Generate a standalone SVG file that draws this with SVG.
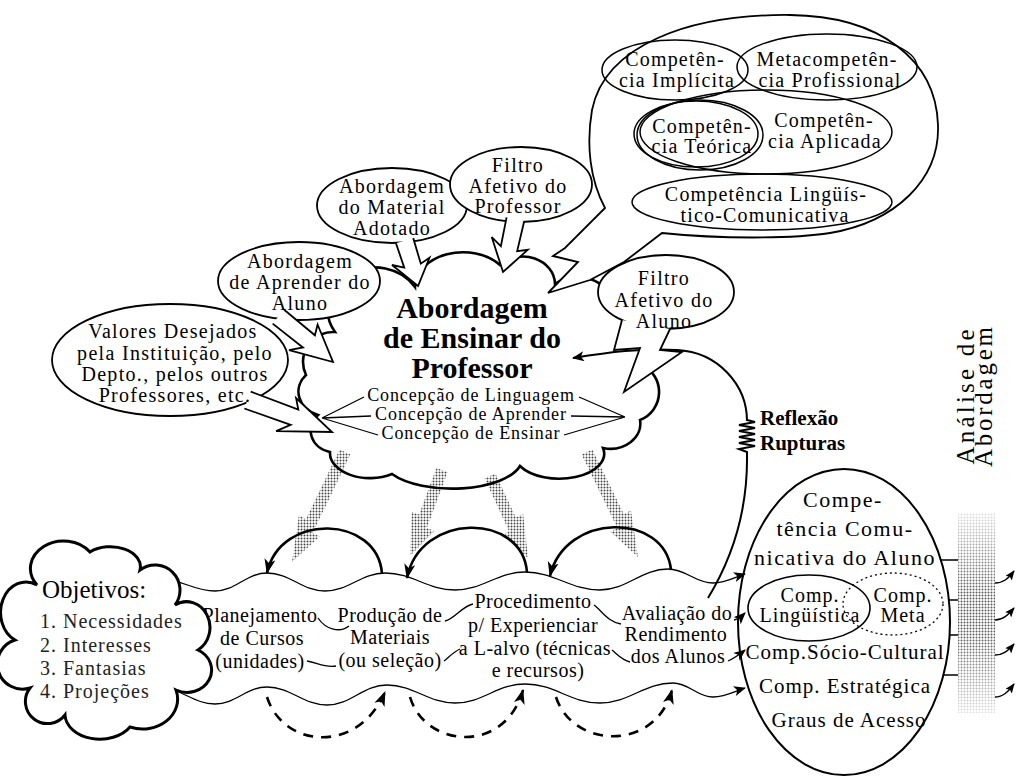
<svg xmlns="http://www.w3.org/2000/svg" width="1017" height="778" viewBox="0 0 1017 778">
<style>
text{font-family:"Liberation Serif","Times New Roman",serif;fill:#000;text-anchor:middle}
.t{font-size:20px;letter-spacing:1.3px}
.tt{font-size:20px;letter-spacing:1.2px}
.bt{font-size:20px;letter-spacing:0.5px}
.c{font-size:18px;letter-spacing:0.9px}
.h{font-size:30px;font-weight:bold}
.ob{font-size:25px;text-anchor:start}
.li{font-size:20px;letter-spacing:1px;text-anchor:start;fill:#222}
.rf{font-size:21px;font-weight:bold;text-anchor:start}
.ov{font-size:22px;letter-spacing:1.5px}
.ov2{font-size:21px;letter-spacing:1px}
.sm{font-size:20px;letter-spacing:1px}
.v{font-size:25px}
.bub{fill:#fff;stroke:#000;stroke-width:1.8}
.in{fill:none;stroke:#000;stroke-width:1.5}
.ln{fill:none;stroke:#000;stroke-width:1.3}
.arc{fill:none;stroke:#000;stroke-width:2.6}
.dash{fill:none;stroke:#000;stroke-width:2.6;stroke-dasharray:10 8}
.st{fill:url(#dots);stroke:none}
</style>
<defs>
<pattern id="dots" width="3" height="3" patternUnits="userSpaceOnUse"><rect width="3" height="3" fill="#fff"/><circle cx="1.5" cy="1.5" r="0.95" fill="#444"/></pattern>
<linearGradient id="fade" x1="0" y1="0" x2="0" y2="1"><stop offset="0" stop-color="#fff" stop-opacity="0.85"/><stop offset="0.4" stop-color="#fff" stop-opacity="0.1"/><stop offset="0.6" stop-color="#fff" stop-opacity="0.1"/><stop offset="1" stop-color="#fff" stop-opacity="0.85"/></linearGradient>
<path id="tail" d="M -3,-9 L 55,-9 L 48,-19 L 100,0 L 40,19 L 53,8 L -3,9" fill="#fff" stroke="#000" stroke-width="1.8" stroke-linejoin="miter" vector-effect="non-scaling-stroke"/>
<marker id="ah" viewBox="0 0 12 10" refX="11" refY="5" markerWidth="12" markerHeight="10" markerUnits="userSpaceOnUse" orient="auto"><path d="M0,0 L12,5 L0,10 L3,5 Z" fill="#000"/></marker>
<marker id="ahs" viewBox="0 0 10 8" refX="9" refY="4" markerWidth="10" markerHeight="8" markerUnits="userSpaceOnUse" orient="auto"><path d="M0,0 L10,4 L0,8 L2,4 Z" fill="#000"/></marker>
<marker id="ahl" viewBox="0 0 15 11" refX="14" refY="5.5" markerWidth="15" markerHeight="11" markerUnits="userSpaceOnUse" orient="auto"><path d="M0,0 L15,5.5 L0,11 L4,5.5 Z" fill="#000"/></marker>
</defs>

<!-- central cloud -->
<g id="cloud-professor">
<path d="M 335,332 A 45 40 0 0 1 415,287 A 48 35 0 0 1 500,265 A 32 28 0 0 1 555,284 A 35 30 0 0 1 612,312 A 35 32 0 0 1 642,365 A 30 30 0 0 1 640,420 A 30 25 0 0 1 603,448 A 45 25 0 0 1 520,466 A 70 30 0 0 1 392,474 A 40 25 0 0 1 330,452 A 25 22 0 0 1 318,415 A 30 25 0 0 1 306,375 A 30 30 0 0 1 335,332 Z" fill="#fff" stroke="none"/>
</g>

<!-- stippled arrows -->
<g id="stipple-arrows">
<polygon class="st" points="350.4,454.6 312.6,533.1 319.8,536.6 292,562 298.9,515.4 306.1,518.9 339.6,449.4"/>
<polygon class="st" points="447.6,472.1 426.8,528.1 434.3,530.9 410,556 411.6,511.7 419.1,514.5 436.4,467.9"/>
<polygon class="st" points="495.4,473.5 515.8,517.4 523.1,514.0 528,558 501.9,534.9 509.2,531.5 484.6,478.5"/>
<polygon class="st" points="592.4,449.4 623.7,513.9 630.9,510.4 638,557 610.1,531.6 617.3,528.1 581.6,454.6"/>
</g>

<g id="cloud-professor-outline">
<path d="M 335,332 A 45 40 0 0 1 415,287 A 48 35 0 0 1 500,265 A 32 28 0 0 1 555,284 A 35 30 0 0 1 612,312 A 35 32 0 0 1 642,365 A 30 30 0 0 1 640,420 A 30 25 0 0 1 603,448 A 45 25 0 0 1 520,466 A 70 30 0 0 1 392,474 A 40 25 0 0 1 330,452 A 25 22 0 0 1 318,415 A 30 25 0 0 1 306,375 A 30 30 0 0 1 335,332 Z" fill="none" stroke="#000" stroke-width="2.6"/>
<text class="h" x="472" y="318">Abordagem</text>
<text class="h" x="472" y="348">de Ensinar do</text>
<text class="h" x="472" y="378">Professor</text>
<text class="c" x="471" y="401">Concepção de Linguagem</text>
<text class="c" x="471" y="420">Concepção de Aprender</text>
<text class="c" x="471" y="439">Concepção de Ensinar</text>
<path class="ln" d="M 364,397 L 322,418 M 371,416 L 322,418 M 378,435 L 322,418 M 579,397 L 625,417 M 571,416 L 625,417 M 564,435 L 625,417" stroke-width="1.5"/>
</g>

<!-- top-right competence bubble -->
<g id="bubble-competencias">
<path class="bub" d="M 662,233 C 720,239 790,239 830,233 C 895,222 940,180 938,125 C 936,60 880,16 790,15 C 690,14 605,45 592,110 C 586,145 590,180 605,208 L 565,248 L 553,256 L 578,262 L 548,293 L 590,280 L 624,262 Z"/>
<ellipse class="in" cx="675" cy="70" rx="73" ry="30"/>
<ellipse class="in" cx="827" cy="67" rx="90" ry="33"/>
<ellipse class="in" cx="766" cy="132" rx="126" ry="42"/>
<ellipse class="in" cx="700" cy="135" rx="63" ry="35"/>
<ellipse class="in" cx="696" cy="134" rx="62" ry="33"/>
<ellipse class="in" cx="762" cy="202" rx="130" ry="28"/>
<text class="tt" x="675" y="66">Competên-</text>
<text class="tt" x="677" y="87">cia Implícita</text>
<text class="tt" x="827" y="66">Metacompetên-</text>
<text class="tt" x="830" y="87">cia Profissional</text>
<text class="tt" x="702" y="133">Competên-</text>
<text class="tt" x="702" y="153">cia Teórica</text>
<text class="tt" x="824" y="127">Competên-</text>
<text class="tt" x="825" y="148">cia Aplicada</text>
<text class="tt" x="766" y="201">Competência Lingüís-</text>
<text class="tt" x="765" y="222">tico-Comunicativa</text>
</g>

<g id="bubble-material">
<ellipse class="bub" cx="392" cy="205.5" rx="75" ry="37.5"/>
<use href="#tail" transform="translate(405,242) rotate(73.5) scale(0.459,1)"/>
</g>
<g id="bubble-filtro-professor">
<ellipse class="bub" cx="521" cy="184.5" rx="71" ry="37.5"/>
<use href="#tail" transform="translate(515,221) rotate(103.2) scale(0.524,1)"/>
</g>
<g id="bubble-aprender">
<ellipse class="bub" cx="299" cy="281" rx="81" ry="39"/>
<use href="#tail" transform="translate(280,318) rotate(39.7) scale(0.689,1)"/>
</g>
<g id="bubble-valores">
<ellipse class="bub" cx="170" cy="360" rx="118" ry="56"/>
<use href="#tail" transform="translate(250,401) rotate(20.7) scale(0.877,1)"/>
</g>
<g id="bubble-texts">
<text class="t" x="392" y="193">Abordagem</text>
<text class="t" x="392" y="214">do Material</text>
<text class="t" x="392" y="235">Adotado</text>
<text class="t" x="518" y="172">Filtro</text>
<text class="t" x="518" y="193">Afetivo do</text>
<text class="t" x="518" y="213">Professor</text>
<text class="t" x="300" y="268">Abordagem</text>
<text class="t" x="300" y="289">de Aprender do</text>
<text class="t" x="300" y="310">Aluno</text>
<text class="t" x="173" y="338">Valores Desejados</text>
<text class="t" x="175" y="360">pela Instituição, pelo</text>
<text class="t" x="175" y="381">Depto., pelos outros</text>
<text class="t" x="175" y="402">Professores, etc.</text>
</g>

<!-- feedback connector -->
<g id="connectors">
<path d="M 708,598 C 722,575 748,525 747,455" fill="none" stroke="#000" stroke-width="2"/>
<path d="M 747,455 L 747,452 L 739,449 L 755,446 L 739,443 L 755,440 L 739,437 L 755,434 L 739,431 L 755,428 L 739,425 L 755,422 L 747,420" fill="none" stroke="#000" stroke-width="2"/>
<path d="M 747,421 C 747,385 718,352 677,350 C 640,348 610,352 573,358" fill="none" stroke="#000" stroke-width="2" marker-end="url(#ah)"/>
</g>

<g id="bubble-filtro-aluno">
<ellipse class="bub" cx="666" cy="292" rx="68" ry="37"/>
<path d="M 622,320 L 614,350 L 640,348 L 624,392 L 682,352 L 660,350 L 670,329" fill="#fff" stroke="#000" stroke-width="1.8"/>
<text class="t" x="664" y="285">Filtro</text>
<text class="t" x="664" y="307">Afetivo do</text>
<text class="t" x="664" y="328">Aluno</text>
</g>

<g id="reflexao">
<text class="rf" x="760" y="425">Reflexão</text>
<text class="rf" x="760" y="450">Rupturas</text>
</g>

<!-- band -->
<g id="band-lines">
<path class="ln" d="M 160,579 C 182,579 193,591 215,591 C 235.8,591 246.2,573 267,573 C 290.2,573 301.8,591 325,591 C 349,591 361,573 385,573 C 413,573 427,590 455,590 C 483,590 497,572 525,572 C 555,572 570,590 600,590 C 627,590 641,569 668,569 C 686,569 695,583 713,583 C 726,583 735,577 745,574" marker-end="url(#ah)"/>
<path class="ln" d="M 160,688 C 182,688 193,704 215,704 C 235.8,704 246.2,687 267,687 C 291,687 303,705 327,705 C 351,705 363,685 387,685 C 414,685 428,703 455,703 C 483,703 497,684 525,684 C 555,684 570,703 600,703 C 629,703 644,683 673,683 C 689,683 697,697 713,697 C 726,697 735,691 745,688" marker-end="url(#ah)"/>
<path class="ln" d="M 176,604 C 188,606 194,612 203,613"/>
<path class="ln" d="M 318,618 C 326,630 340,633 349,626"/>
<path class="ln" d="M 445,621 C 455,619 462,606 473,604"/>
<path class="ln" d="M 594,605 C 602,611 608,622 621,624"/>
<path class="ln" d="M 734,620 C 738,619 742,616 745,613" marker-end="url(#ah)"/>
<path class="ln" d="M 177,655 C 190,657 200,664 212,666"/>
<path class="ln" d="M 307,661 C 318,663 325,668 336,666"/>
<path class="ln" d="M 444,661 C 450,656 455,651 460,649"/>
<path class="ln" d="M 612,650 C 618,655 622,660 630,662"/>
<path class="ln" d="M 728,661 C 735,658 740,654 745,650" marker-end="url(#ah)"/>
</g>

<g id="band-texts">
<text class="bt" x="260" y="622">Planejamento</text>
<text class="bt" x="262" y="645">de Cursos</text>
<text class="bt" x="260" y="668">(unidades)</text>
<text class="bt" x="390" y="622">Produção de</text>
<text class="bt" x="390" y="644">Materiais</text>
<text class="bt" x="390" y="667">(ou seleção)</text>
<text class="bt" x="533" y="608">Procedimento</text>
<text class="bt" x="533" y="632">p/ Experienciar</text>
<text class="bt" x="535" y="655">a L-alvo (técnicas</text>
<text class="bt" x="538" y="677">e recursos)</text>
<text class="bt" x="677" y="620">Avaliação do</text>
<text class="bt" x="676" y="641">Rendimento</text>
<text class="bt" x="678" y="663">dos Alunos</text>
</g>

<g id="objetivos">
<path d="M 15,640 A 25 30 0 0 1 37,585 A 30 25 0 0 1 90,552 A 30 20 0 0 1 140,570 A 25 25 0 0 1 175,605 A 20 22 0 0 1 198,650 A 22 20 0 0 1 176,690 A 35 30 0 0 1 130,727 A 35 25 0 0 1 65,715 A 20 20 0 0 1 30,688 A 25 25 0 0 1 15,640 Z" fill="#fff" stroke="#000" stroke-width="3"/>
<text class="ob" x="42" y="598">Objetivos:</text>
<text class="li" x="40" y="628">1. Necessidades</text>
<text class="li" x="40" y="652">2. Interesses</text>
<text class="li" x="40" y="675">3. Fantasias</text>
<text class="li" x="40" y="698">4. Projeções</text>
</g>

<g id="cycle-arcs">
<path class="arc" d="M 382,574 C 378,515 280,512 267,573" marker-end="url(#ahl)"/>
<path class="arc" d="M 527,572 C 522,512 420,512 407,578" marker-end="url(#ahl)"/>
<path class="arc" d="M 671,570 C 665,512 565,512 550,576" marker-end="url(#ahl)"/>
<path class="dash" d="M 267,697 C 283,748 358,755 385,692" marker-end="url(#ahl)"/>
<path class="dash" d="M 410,697 C 425,748 505,755 523,690" marker-end="url(#ahl)"/>
<path class="dash" d="M 556,697 C 572,748 655,753 672,690" marker-end="url(#ahl)"/>
</g>

<g id="competencia-aluno">
<ellipse cx="844" cy="622" rx="106" ry="153" fill="none" stroke="#000" stroke-width="2"/>
<ellipse cx="809" cy="608" rx="61" ry="33" fill="none" stroke="#000" stroke-width="1.6"/>
<ellipse cx="893" cy="604" rx="50" ry="31" fill="none" stroke="#000" stroke-width="1.3" stroke-dasharray="2 3"/>
<text class="ov" x="843" y="507">Compe-</text>
<text class="ov" x="845" y="536">tência Comu-</text>
<text class="ov" x="845" y="565">nicativa do Aluno</text>
<text class="sm" x="810" y="602">Comp.</text>
<text class="sm" x="810" y="622">Lingüística</text>
<text class="sm" x="903" y="602">Comp.</text>
<text class="sm" x="903" y="622">Meta</text>
<text class="ov2" x="845" y="659">Comp.Sócio-Cultural</text>
<text class="ov2" x="845" y="693">Comp. Estratégica</text>
<text class="ov2" x="849" y="727">Graus de Acesso</text>
</g>

<g id="analise">
<rect x="958" y="513" width="37" height="200" fill="url(#dots)"/>
<rect x="957" y="512" width="39" height="202" fill="url(#fade)"/>
<path class="ln" d="M 941,560 L 958,560 M 949,600 L 958,600 M 950,635 L 958,635 M 943,675 L 958,675"/>
<path class="ln" d="M 995,583 C 1003,583 1008,579 1014,571" marker-end="url(#ahs)"/>
<path class="ln" d="M 995,620 C 1003,620 1008,615 1014,608" marker-end="url(#ahs)"/>
<path class="ln" d="M 995,655 C 1003,655 1008,651 1014,644" marker-end="url(#ahs)"/>
<path class="ln" d="M 995,697 C 1003,697 1008,692 1014,684" marker-end="url(#ahs)"/>
<text class="v" transform="translate(974,397) rotate(-90)" textLength="135" lengthAdjust="spacing">Análise de</text>
<text class="v" transform="translate(992,397) rotate(-90)" textLength="140" lengthAdjust="spacing">Abordagem</text>
</g>
</svg>
